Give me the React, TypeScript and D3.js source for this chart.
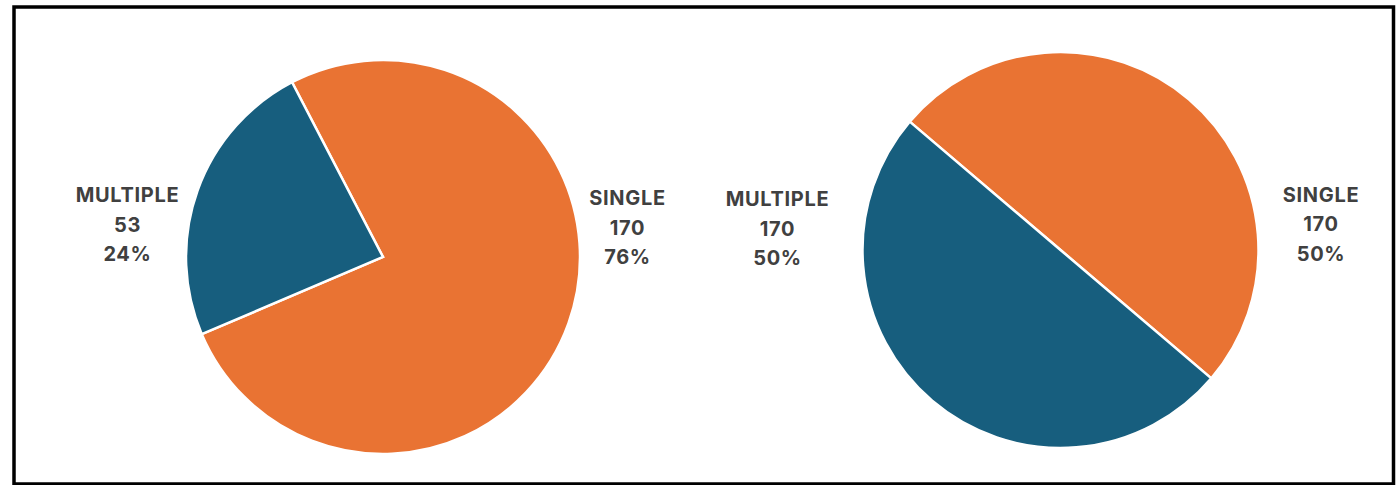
import React from "react";
import * as d3 from "d3";

const categories = ["SINGLE", "MULTIPLE"];
const leftValues = [170, 53];
const rightValues = [170, 170];

const colors: Record<string, string> = { SINGLE: "#E97333", MULTIPLE: "#175E7E" };

type PieCfg = {
  values: number[];
  cx: number;
  cy: number;
  r: number;
  startDeg: number;
  labels: Record<string, { x: number; y: number }>;
};

const pies: PieCfg[] = [
  {
    values: leftValues,
    cx: 383,
    cy: 257,
    r: 197,
    startDeg: -27.5,
    labels: { MULTIPLE: { x: 127.5, y: 202 }, SINGLE: { x: 627.5, y: 205 } },
  },
  {
    values: rightValues,
    cx: 1060.5,
    cy: 250,
    r: 198,
    startDeg: -49.6,
    labels: { MULTIPLE: { x: 777.5, y: 206 }, SINGLE: { x: 1321, y: 201.5 } },
  },
];

function Pie({ cfg }: { cfg: PieCfg }) {
  const data = categories.map((c, i) => ({ cat: c, value: cfg.values[i] }));
  const total = d3.sum(data, (d) => d.value);
  const start = (cfg.startDeg * Math.PI) / 180;
  const arcs = d3
    .pie<{ cat: string; value: number }>()
    .sort(null)
    .value((d) => d.value)
    .startAngle(start)
    .endAngle(start + 2 * Math.PI)(data);
  const arc = d3.arc<d3.PieArcDatum<{ cat: string; value: number }>>().innerRadius(0).outerRadius(cfg.r);
  const lh = 29.5;
  return (
    <g>
      <g transform={`translate(${cfg.cx},${cfg.cy})`}>
        {arcs.map((a) => (
          <path
            key={a.data.cat}
            d={arc(a) || ""}
            fill={colors[a.data.cat]}
            stroke="#ffffff"
            strokeWidth={2.5}
            strokeLinejoin="miter"
          />
        ))}
      </g>
      {data.map((d) => {
        const p = cfg.labels[d.cat];
        const pct = Math.round((d.value / total) * 100) + "%";
        return (
          <text
            key={d.cat}
            x={p.x}
            y={p.y}
            textAnchor="middle"
            fontFamily="Inter, 'Open Sans', sans-serif"
            fontWeight={700}
            fontSize={20}
            letterSpacing={0.7}
            fill="#404040"
          >
            <tspan x={p.x} y={p.y}>{d.cat}</tspan>
            <tspan x={p.x} y={p.y + lh}>{d.value}</tspan>
            <tspan x={p.x} y={p.y + 2 * lh}>{pct}</tspan>
          </text>
        );
      })}
    </g>
  );
}

export default function App() {
  return (
    <svg
      width={1396}
      height={485}
      style={{ position: "absolute", left: 0, top: 0, background: "#ffffff" }}
    >
      <rect x={0} y={0} width={1396} height={485} fill="#ffffff" />
      <rect x={14} y={7} width={1379.5} height={477} fill="none" stroke="#000000" strokeWidth={3.5} />
      {pies.map((p, i) => (
        <Pie key={i} cfg={p} />
      ))}
    </svg>
  );
}
